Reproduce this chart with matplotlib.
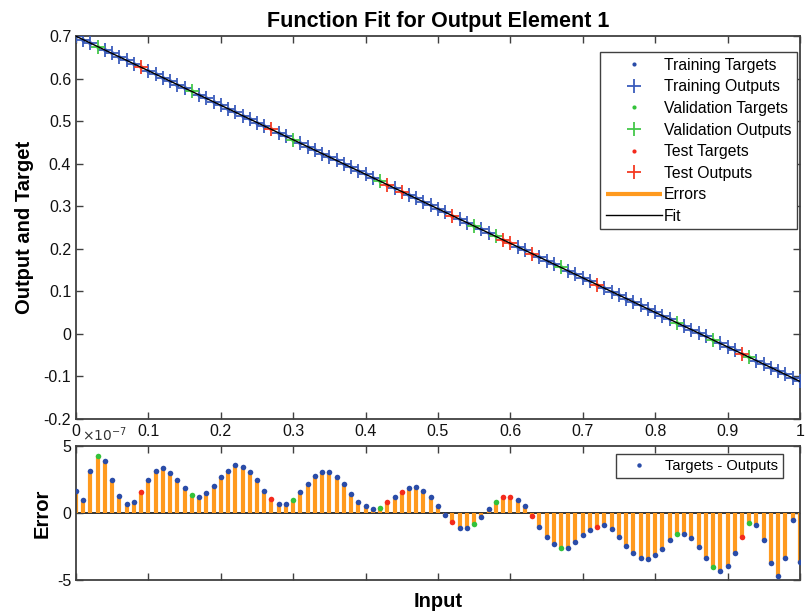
import matplotlib
matplotlib.use('Agg')
import matplotlib.pyplot as plt
from matplotlib.ticker import FuncFormatter

plt.rcParams['font.family'] = ['Liberation Sans', 'DejaVu Sans']
plt.rcParams['axes.unicode_minus'] = False

# Network inputs (0 .. 1 in steps of 0.01)
inputs = [0.00, 0.01, 0.02, 0.03, 0.04, 0.05, 0.06, 0.07, 0.08, 0.09,
          0.10, 0.11, 0.12, 0.13, 0.14, 0.15, 0.16, 0.17, 0.18, 0.19,
          0.20, 0.21, 0.22, 0.23, 0.24, 0.25, 0.26, 0.27, 0.28, 0.29,
          0.30, 0.31, 0.32, 0.33, 0.34, 0.35, 0.36, 0.37, 0.38, 0.39,
          0.40, 0.41, 0.42, 0.43, 0.44, 0.45, 0.46, 0.47, 0.48, 0.49,
          0.50, 0.51, 0.52, 0.53, 0.54, 0.55, 0.56, 0.57, 0.58, 0.59,
          0.60, 0.61, 0.62, 0.63, 0.64, 0.65, 0.66, 0.67, 0.68, 0.69,
          0.70, 0.71, 0.72, 0.73, 0.74, 0.75, 0.76, 0.77, 0.78, 0.79,
          0.80, 0.81, 0.82, 0.83, 0.84, 0.85, 0.86, 0.87, 0.88, 0.89,
          0.90, 0.91, 0.92, 0.93, 0.94, 0.95, 0.96, 0.97, 0.98, 0.99,
          1.00]

targets = [0.7000, 0.6919, 0.6838, 0.6756, 0.6675, 0.6594, 0.6513, 0.6432, 0.6350, 0.6269,
           0.6188, 0.6107, 0.6026, 0.5944, 0.5863, 0.5782, 0.5701, 0.5620, 0.5538, 0.5457,
           0.5376, 0.5295, 0.5214, 0.5132, 0.5051, 0.4970, 0.4889, 0.4808, 0.4726, 0.4645,
           0.4564, 0.4483, 0.4402, 0.4320, 0.4239, 0.4158, 0.4077, 0.3996, 0.3914, 0.3833,
           0.3752, 0.3671, 0.3590, 0.3508, 0.3427, 0.3346, 0.3265, 0.3184, 0.3102, 0.3021,
           0.2940, 0.2859, 0.2778, 0.2696, 0.2615, 0.2534, 0.2453, 0.2372, 0.2290, 0.2209,
           0.2128, 0.2047, 0.1966, 0.1884, 0.1803, 0.1722, 0.1641, 0.1560, 0.1478, 0.1397,
           0.1316, 0.1235, 0.1154, 0.1072, 0.0991, 0.0910, 0.0829, 0.0748, 0.0666, 0.0585,
           0.0504, 0.0423, 0.0342, 0.0260, 0.0179, 0.0098, 0.0017, -0.0064, -0.0146, -0.0227,
           -0.0308, -0.0389, -0.0470, -0.0552, -0.0633, -0.0714, -0.0795, -0.0876, -0.0958, -0.1039,
           -0.1120]

# targets - outputs, in units of 1e-7
errors_e7 = [1.65, 0.96, 3.15, 4.26, 3.87, 2.46, 1.28, 0.69, 0.86, 1.55,
             2.46, 3.15, 3.35, 3.03, 2.46, 1.87, 1.38, 1.18, 1.48, 2.00,
             2.66, 3.15, 3.57, 3.47, 3.05, 2.46, 1.65, 1.06, 0.69, 0.69,
             0.96, 1.58, 2.17, 2.76, 3.05, 3.05, 2.66, 2.17, 1.45, 0.86,
             0.49, 0.30, 0.37, 0.79, 1.18, 1.58, 1.87, 1.97, 1.67, 1.18,
             0.50, -0.15, -0.69, -1.11, -1.11, -0.81, -0.30, 0.30, 0.79, 1.18,
             1.18, 0.99, 0.49, -0.20, -1.01, -1.80, -2.29, -2.59, -2.59, -2.17,
             -1.67, -1.28, -1.01, -0.91, -1.20, -1.78, -2.48, -2.97, -3.34, -3.44,
             -3.14, -2.65, -2.05, -1.58, -1.58, -1.86, -2.57, -3.37, -4.06, -4.33,
             -3.96, -2.95, -1.76, -0.77, -0.89, -1.98, -3.76, -4.73, -3.37, -0.52,
             -3.66]

val_idx = [3, 16, 30, 42, 55, 58, 67, 83, 88, 93]
test_idx = [9, 27, 43, 45, 52, 59, 60, 63, 72, 92]

errors = [e * 1e-7 for e in errors_e7]
outputs = [t - e for t, e in zip(targets, errors)]

groups = {
    'train': [i for i in range(len(inputs)) if i not in val_idx and i not in test_idx],
    'val': val_idx,
    'test': test_idx,
}
names = {'train': 'Training', 'val': 'Validation', 'test': 'Test'}
dot_colors = {'train': '#2a4ca8', 'val': '#33c23a', 'test': '#f42a1c'}
plus_colors = {'train': '#3a5cbc', 'val': '#44c84a', 'test': '#f43a22'}
orange = '#ff9a1e'
edge = '#404040'


def pick(values, idx):
    return [values[i] for i in idx]


def style_axes(ax):
    for sp in ax.spines.values():
        sp.set_color(edge)
        sp.set_linewidth(1.3)
    ax.tick_params(direction='in', top=True, right=True, length=5, width=1,
                   color=edge, labelsize=11.5, labelcolor='#111111')


fig = plt.figure(figsize=(8.07, 6.14), dpi=100)
ax = fig.add_axes([0.0942, 0.318, 0.897, 0.623])
ax2 = fig.add_axes([0.0942, 0.0554, 0.897, 0.218])

# upper panel: targets, outputs, errors and the fit
handles = []
for g in ['train', 'val', 'test']:
    idx = groups[g]
    h1, = ax.plot(pick(inputs, idx), pick(targets, idx), 'o', ms=3, color=dot_colors[g],
                  mec='none', label=names[g] + ' Targets', zorder=3)
    h2, = ax.plot(pick(inputs, idx), pick(outputs, idx), '+', ms=10, mew=1.3,
                  color=plus_colors[g], label=names[g] + ' Outputs', zorder=3)
    handles += [h1, h2]
err_lines = ax.vlines(inputs, targets, outputs, color=orange, lw=3, label='Errors', zorder=2)
fit, = ax.plot(inputs, outputs, color='black', lw=1, label='Fit', zorder=4)
handles += [err_lines, fit]

ax.set_xlim(0, 1)
ax.set_ylim(-0.2, 0.7)
ax.set_xticks([i / 10 for i in range(11)])
ax.set_xticklabels(['0', '0.1', '0.2', '0.3', '0.4', '0.5', '0.6', '0.7', '0.8', '0.9', '1'])
ax.set_yticks([-0.2, -0.1, 0, 0.1, 0.2, 0.3, 0.4, 0.5, 0.6, 0.7])
ax.set_yticklabels(['-0.2', '-0.1', '0', '0.1', '0.2', '0.3', '0.4', '0.5', '0.6', '0.7'])
style_axes(ax)
ax.set_title('Function Fit for Output Element 1', fontsize=15.5, fontweight='bold', pad=7)
ax.set_ylabel('Output and Target', fontsize=14.5, fontweight='bold', labelpad=7)

leg = ax.legend(handles=handles, loc='upper right', bbox_to_anchor=(0.996, 0.958),
                fontsize=11.3, handlelength=3.6, handletextpad=0.1, labelspacing=0.42,
                borderpad=0.35, borderaxespad=0, fancybox=False, framealpha=1,
                edgecolor=edge, numpoints=1)
leg.get_frame().set_linewidth(1.0)
for lh in leg.legend_handles:
    if lh.get_label() == 'Errors':
        lh.set_linewidth(3)

# lower panel: error stems
ax2.axhline(0, color='#222222', lw=1.3, zorder=1)
ax2.vlines(inputs, 0, errors, color=orange, lw=3, zorder=2)
err_handle = None
for g in ['train', 'val', 'test']:
    idx = groups[g]
    h, = ax2.plot(pick(inputs, idx), pick(errors, idx), 'o', ms=4, color=dot_colors[g],
                  mec='none', zorder=3)
    if g == 'train':
        err_handle = h

ax2.set_xlim(0, 1)
ax2.set_ylim(-5e-7, 5e-7)
ax2.set_xticks([i / 10 for i in range(11)])
ax2.set_xticklabels([])
ax2.set_yticks([-5e-7, 0, 5e-7])
ax2.yaxis.set_major_formatter(FuncFormatter(lambda v, p: '%g' % round(v * 1e7, 6)))
style_axes(ax2)
ax2.text(0.008, 1.015, r'$\times10^{-7}$', transform=ax2.transAxes, fontsize=10,
         color='#333333', ha='left', va='bottom')
ax2.set_ylabel('Error', fontsize=14.5, fontweight='bold', labelpad=4)
ax2.set_xlabel('Input', fontsize=14.5, fontweight='bold', labelpad=5)

leg2 = ax2.legend([err_handle], ['Targets - Outputs'], loc='upper right',
                  bbox_to_anchor=(0.977, 0.94), fontsize=10.5, handlelength=2.4,
                  handletextpad=0.6, borderpad=0.35, borderaxespad=0, fancybox=False,
                  framealpha=1, edgecolor=edge, numpoints=1, markerscale=0.8)
leg2.get_frame().set_linewidth(1.0)

plt.savefig('out.png', dpi=100)
